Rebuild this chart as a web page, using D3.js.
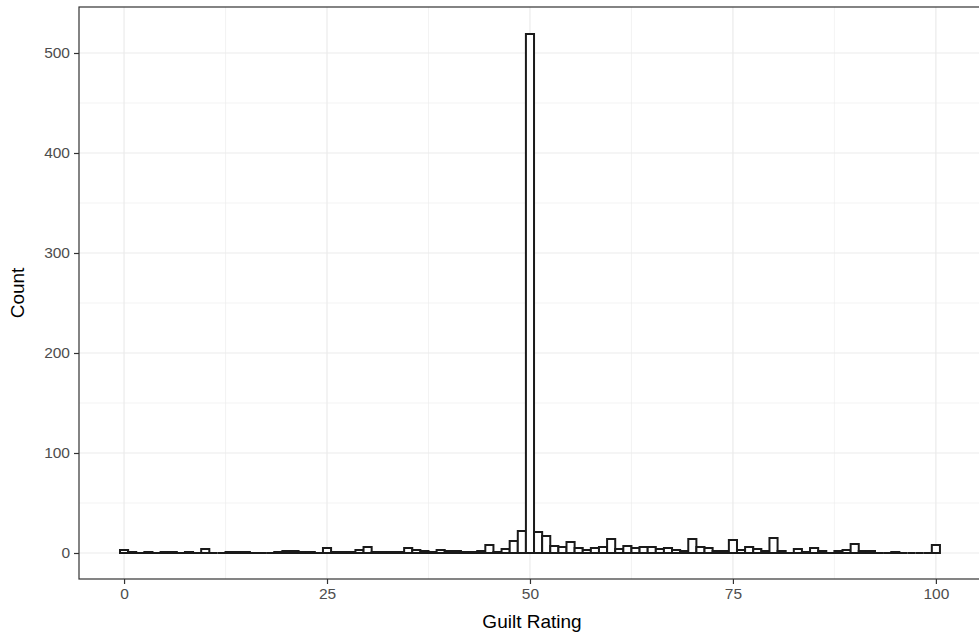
<!DOCTYPE html>
<html>
<head>
<meta charset="utf-8">
<script src="https://cdn.jsdelivr.net/npm/d3@7"></script>
<style>
  body { margin: 0; background: #fff; }
  text { font-family: "Liberation Sans", Arial, sans-serif; }
</style>
</head>
<body>
<div id="chart"></div>
<script>
// guilt rating histogram, one bin per integer rating

const ratings = d3.range(0, 101);
const counts = [
  3, 1, 0, 1, 0, 1, 1, 0, 1, 0,
  4, 0, 0, 1, 1, 1, 0, 0, 0, 1,
  2, 2, 1, 1, 0, 5, 1, 1, 1, 3,
  6, 1, 1, 1, 1, 5, 3, 2, 1, 3,
  2, 2, 1, 1, 2, 8, 1, 4, 12, 22,
  519, 21, 17, 7, 6, 11, 5, 3, 5, 6,
  14, 4, 7, 5, 6, 6, 4, 5, 3, 2,
  14, 6, 5, 2, 2, 13, 3, 6, 4, 2,
  15, 2, 0, 4, 1, 5, 2, 0, 2, 3,
  9, 2, 2, 0, 0, 1, 0, 0, 0, 0,
  8
];
const xTicks = [0, 25, 50, 75, 100];
const xMinor = [12.5, 37.5, 62.5, 87.5];
const yTicks = [0, 100, 200, 300, 400, 500];
const yMinor = [50, 150, 250, 350, 450];

const width = 979, height = 637;
const panel = { left: 79, right: 985, top: 7, bottom: 579 };

const svg = d3.select("#chart").append("svg")
    .attr("width", width)
    .attr("height", height)
    .style("background", "#fff");

const x = d3.scaleLinear().domain([-5.55, 106.05]).range([panel.left, panel.right]);
const y = d3.scaleLinear().domain([-26, 546]).range([panel.bottom, panel.top]);

// grid lines
const grid = svg.append("g");
grid.selectAll(".ymin").data(yMinor).enter().append("line")
    .attr("x1", panel.left).attr("x2", panel.right)
    .attr("y1", d => y(d)).attr("y2", d => y(d))
    .style("stroke", "#ebebeb").style("stroke-width", 0.6);
grid.selectAll(".xmin").data(xMinor).enter().append("line")
    .attr("y1", panel.top).attr("y2", panel.bottom)
    .attr("x1", d => x(d)).attr("x2", d => x(d))
    .style("stroke", "#ebebeb").style("stroke-width", 0.6);
grid.selectAll(".ymaj").data(yTicks).enter().append("line")
    .attr("x1", panel.left).attr("x2", panel.right)
    .attr("y1", d => y(d)).attr("y2", d => y(d))
    .style("stroke", "#ebebeb").style("stroke-width", 1.2);
grid.selectAll(".xmaj").data(xTicks).enter().append("line")
    .attr("y1", panel.top).attr("y2", panel.bottom)
    .attr("x1", d => x(d)).attr("x2", d => x(d))
    .style("stroke", "#ebebeb").style("stroke-width", 1.2);

// bars as closed paths so empty bins still show a flat outline
svg.append("g").selectAll("path")
    .data(ratings)
    .enter()
    .append("path")
    .attr("d", (d, i) => {
        const x0 = x(d - 0.5), x1 = x(d + 0.5);
        const y0 = y(0), y1 = y(counts[i]);
        return `M${x0},${y0}L${x0},${y1}L${x1},${y1}L${x1},${y0}Z`;
    })
    .style("fill", "#fff")
    .style("stroke", "#1a1a1a")
    .style("stroke-width", 2);

// panel border
svg.append("rect")
    .attr("x", panel.left).attr("y", panel.top)
    .attr("width", panel.right - panel.left)
    .attr("height", panel.bottom - panel.top)
    .style("fill", "none")
    .style("stroke", "#333")
    .style("stroke-width", 1.2);

// axes
const xAxis = svg.append("g")
    .attr("transform", `translate(0,${panel.bottom})`)
    .call(d3.axisBottom(x).tickValues(xTicks).tickSize(5).tickPadding(4));
const yAxis = svg.append("g")
    .attr("transform", `translate(${panel.left},0)`)
    .call(d3.axisLeft(y).tickValues(yTicks).tickSize(5).tickPadding(4));

[xAxis, yAxis].forEach(a => {
    a.select(".domain").remove();
    a.selectAll(".tick line").style("stroke", "#333").style("stroke-width", 1.2);
    a.selectAll(".tick text")
        .style("fill", "#4d4d4d")
        .style("font-size", "15.5px")
        .style("font-family", "Liberation Sans, Arial, sans-serif");
});

// axis titles
svg.append("text")
    .attr("x", (panel.left + 979) / 2 + 3)
    .attr("y", 628)
    .attr("text-anchor", "middle")
    .style("font-size", "19px")
    .style("fill", "#000")
    .text("Guilt Rating");

svg.append("text")
    .attr("transform", `translate(24,${(panel.top + panel.bottom) / 2}) rotate(-90)`)
    .attr("text-anchor", "middle")
    .style("font-size", "19px")
    .style("fill", "#000")
    .text("Count");
</script>
</body>
</html>
